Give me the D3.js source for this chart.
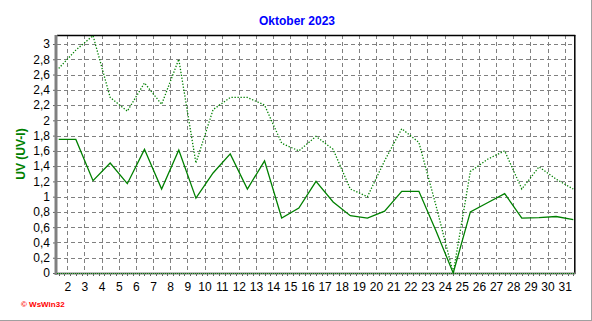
<!DOCTYPE html>
<html><head><meta charset="utf-8">
<script src="https://cdn.jsdelivr.net/npm/d3@7"></script>
<style>
html,body{margin:0;padding:0;background:#fff;}
svg{display:block;}
text{font-family:Arial,"Liberation Sans",sans-serif;}
</style></head>
<body>
<svg id="c" width="592" height="321"></svg>
<script>
const title = "Oktober 2023";
const yLabel = "UV (UV-I)";
const credit = "© WsWin32";
const days = d3.range(1, 32);
const uvAvg = [1.75,1.75,1.21,1.44,1.17,1.62,1.10,1.61,0.98,1.31,1.56,1.10,1.47,0.72,0.85,1.20,0.93,0.75,0.72,0.81,1.07,1.07,0.55,0.00,0.80,0.92,1.04,0.72,0.725,0.74,0.70];
const uvMax = [2.68,2.92,3.11,2.30,2.12,2.49,2.21,2.80,1.44,2.14,2.30,2.30,2.20,1.70,1.60,1.79,1.62,1.10,1.00,1.47,1.89,1.71,0.88,0.00,1.33,1.49,1.60,1.10,1.39,1.23,1.10];
const xTicks = d3.range(2, 32);
const yTicks = d3.range(0, 16).map(i => +(i*0.2).toFixed(1));

const svg = d3.select("#c");
const L = 57, R = 574.3, T = 35, B = 273;
const x = d3.scaleLinear().domain([1.4, 31.56]).range([L, R]);
const y = d3.scaleLinear().domain([0, 3]).range([B, 44]);
const xPos = d => x(d + 0.5);

// outer frame lines
svg.append("line").attr("x1",591.5).attr("x2",591.5).attr("y1",0).attr("y2",321).attr("stroke","#a0a0a0");
svg.append("line").attr("x1",0).attr("x2",592).attr("y1",320.5).attr("y2",320.5).attr("stroke","#a0a0a0");

// grid
const g = svg.append("g");
g.selectAll("line.h").data(yTicks.filter(v => v > 0)).join("line")
  .attr("x1", L).attr("x2", R).attr("y1", v => Math.round(y(v))+0.5).attr("y2", v => Math.round(y(v))+0.5)
  .attr("stroke","#808080").attr("stroke-dasharray","4,3");
g.selectAll("line.v").data(xTicks).join("line")
  .attr("y1", T).attr("y2", B).attr("x1", d => Math.round(x(d))+0.5).attr("x2", d => Math.round(x(d))+0.5)
  .attr("stroke","#808080").attr("stroke-dasharray","4,3");

// borders
svg.append("line").attr("x1",L).attr("x2",R+1).attr("y1",T+0.5).attr("y2",T+0.5).attr("stroke","#000").attr("stroke-width",1.5);
svg.append("line").attr("x1",R+0.5).attr("x2",R+0.5).attr("y1",T).attr("y2",B+1).attr("stroke","#000").attr("stroke-width",1.5);

// y axis
const yAxis = d3.axisLeft(y).tickValues(yTicks).tickSize(3).tickPadding(3)
  .tickFormat(v => String(v).replace(".", ","));
const ya = svg.append("g").attr("transform", `translate(${L-1},0)`).call(yAxis);
ya.select(".domain").remove();
ya.selectAll("line").attr("stroke","#606060");
ya.selectAll("text").attr("font-size",12).attr("fill","#000").attr("font-family","Arial,'Liberation Sans',sans-serif");

// x axis
const xAxis = d3.axisBottom(x).tickValues(xTicks).tickSize(0).tickPadding(9).tickFormat(d3.format("d"));
const xa = svg.append("g").attr("transform", `translate(0,${B})`).call(xAxis);
xa.select(".domain").remove();
xa.selectAll("text").attr("font-size",12).attr("fill","#000").attr("font-family","Arial,'Liberation Sans',sans-serif");
// minor ticks along bottom
const minor = d3.range(1.5, 31.56, 1/3);
svg.append("g").selectAll("line").data(minor).join("line")
  .attr("x1", d => Math.round(x(d))+0.5).attr("x2", d => Math.round(x(d))+0.5)
  .attr("y1", B).attr("y2", B+3).attr("stroke","#606060");

// axis lines
svg.append("line").attr("x1",L-1).attr("x2",L-1).attr("y1",T).attr("y2",B+2).attr("stroke","#808080").attr("stroke-width",3);
svg.append("line").attr("x1",L-2).attr("x2",R+1).attr("y1",B+0.5).attr("y2",B+0.5).attr("stroke","#808080").attr("stroke-width",2);
svg.append("line").attr("x1",L).attr("x2",R).attr("y1",B+0.5).attr("y2",B+0.5).attr("stroke","#008000").attr("stroke-dasharray","1,1");

// series
const line = d3.line().x((v,i) => xPos(days[i])).y(v => y(v));
const clip = svg.append("clipPath").attr("id","pc").append("rect").attr("x",L).attr("y",T).attr("width",R-L).attr("height",B-T+1);
svg.append("path").datum(uvMax).attr("d", line).attr("fill","none").attr("stroke","#008000")
  .attr("stroke-width",1.3).attr("stroke-dasharray","1.3,1.7").attr("clip-path","url(#pc)");
svg.append("path").datum(uvAvg).attr("d", line).attr("fill","none").attr("stroke","#008000")
  .attr("stroke-width",1.3).attr("clip-path","url(#pc)");

// title
svg.append("text").attr("x",297).attr("y",25).attr("text-anchor","middle")
  .attr("font-size",12).attr("font-weight","bold").attr("fill","#0000ff").text(title);
// y label
svg.append("text").attr("transform","translate(25,154) rotate(-90)").attr("text-anchor","middle")
  .attr("font-size",12).attr("font-weight","bold").attr("fill","#008000").text(yLabel);
// credit
svg.append("text").attr("x",21).attr("y",307).attr("font-size",8).attr("font-weight","bold").attr("fill","#ff0000").text(credit);
</script>
</body></html>
